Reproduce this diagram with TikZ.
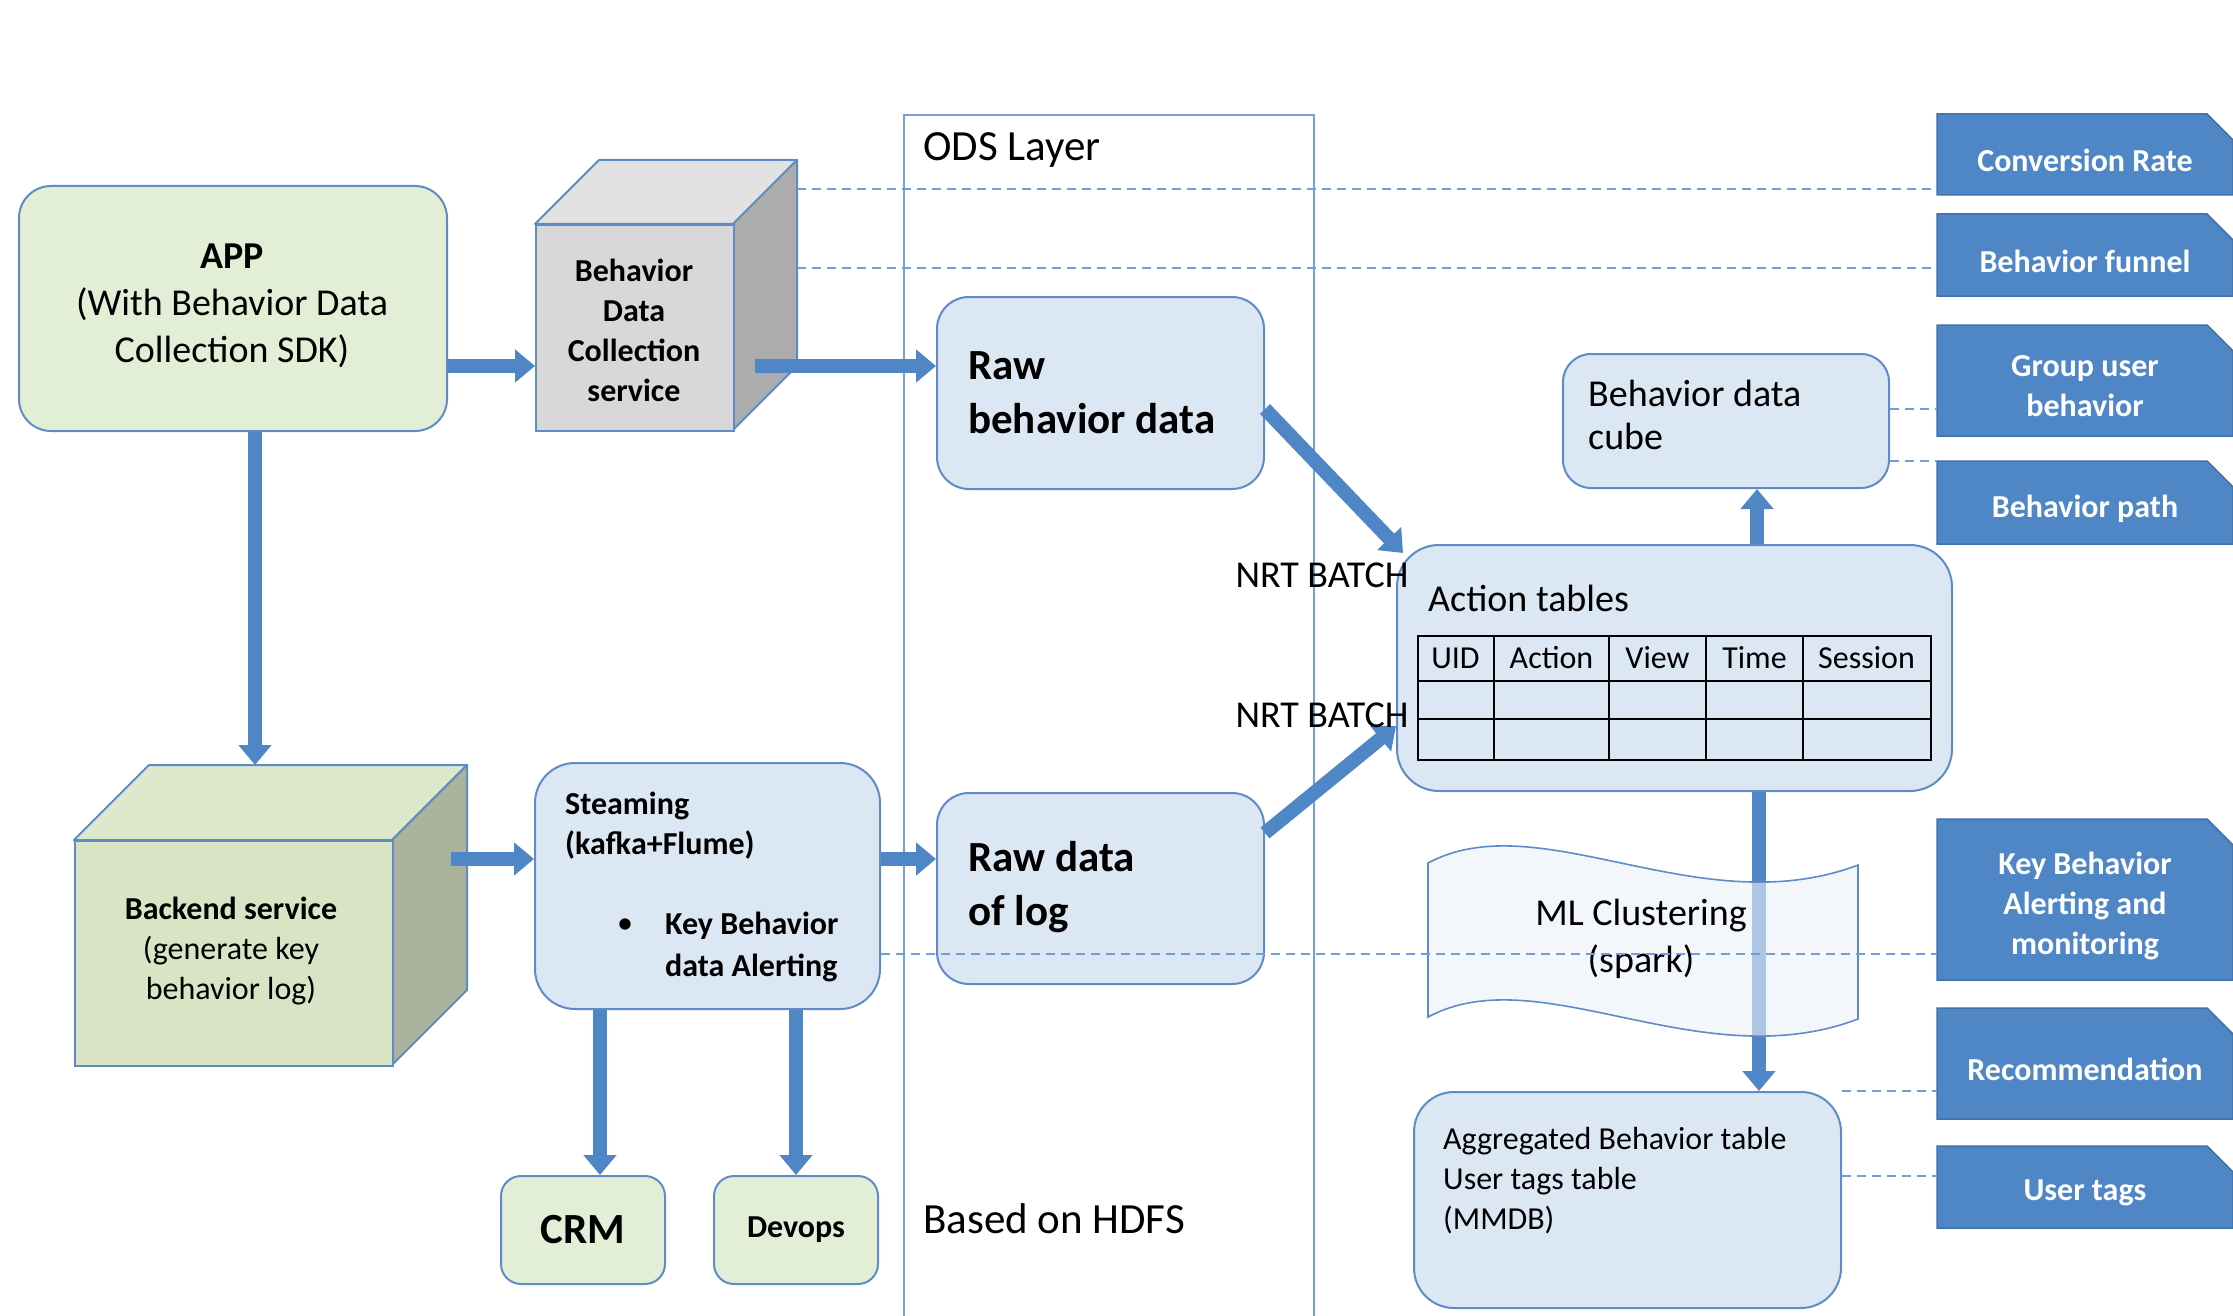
\documentclass[tikz,border=0pt]{standalone}
\usepackage{fontspec}
\setmainfont{Carlito}
\usetikzlibrary{arrows.meta,calc}
\definecolor{bord}{RGB}{95,140,198}
\definecolor{lblue}{RGB}{220,231,244}
\definecolor{lgreen}{RGB}{226,238,214}
\definecolor{bgreen}{RGB}{216,228,196}
\definecolor{sgreen}{RGB}{170,178,155}
\definecolor{tgreen}{RGB}{221,232,205}
\definecolor{gfront}{RGB}{216,216,216}
\definecolor{gtop}{RGB}{226,226,226}
\definecolor{gside}{RGB}{172,172,172}
\definecolor{dblue}{RGB}{79,134,198}
\definecolor{dbord}{RGB}{65,113,170}
\definecolor{arrowc}{RGB}{79,134,198}
\definecolor{dashc}{RGB}{110,160,215}
\definecolor{odsc}{RGB}{120,160,210}
\newcommand{\rbx}[5]{%
  \fill[dblue, draw=dbord, line width=1.5pt] (1937,#2) -- (2207,#2) -- (2233,#2+26) -- (2233,#3) -- (1937,#3) -- cycle;
  \node[rtext, minimum width=296pt, minimum height=#4pt, inner sep=0pt] (#1) at (2085,{(#2+#3)/2}) {};
  \node[rtext, inner sep=0pt] (#1t) at ([yshift=-6pt]#1.center) {#5};}
\begin{document}
\begin{tikzpicture}[x=1pt,y=-1pt,
  f32/.style={font=\fontsize{32}{40}\selectfont},
  f38/.style={font=\fontsize{38}{47}\selectfont},
  f43/.style={font=\fontsize{43}{54}\selectfont},
  box/.style={draw=bord, line width=2pt, rounded corners=32pt, inner sep=0pt, anchor=north west},
  bluebox/.style={box, fill=lblue},
  greenbox/.style={box, fill=lgreen},
  fat/.style={draw=arrowc, line width=14pt, -{Triangle[width=32pt,length=20pt]}},
  dashln/.style={draw=dashc, line width=1.6pt, dash pattern=on 9pt off 6pt},
  rtext/.style={text=white, font=\fontsize{32}{40}\selectfont\bfseries, align=center},
  lbl/.style={inner sep=0pt, align=left, anchor=west},
  cubeface/.style={draw=bord, line width=2pt, line join=round}
]
\useasboundingbox (0,0) rectangle (2233,1316);
\fill[white] (0,0) rectangle (2233,1316);

% ODS layer frame
\node[draw=odsc, line width=2pt, minimum width=410pt, minimum height=1260pt, anchor=north west, inner sep=0pt] (ods) at (903,114) {};
\node[f43, lbl] (odst) at (923,150) {ODS Layer};
\node[f43, lbl] (hdfs) at (923,1219) {Based on HDFS};

% right output boxes
\rbx{cr}{114}{195}{81}{Conversion Rate}
\rbx{bf}{214}{296}{82}{Behavior funnel}
\rbx{gu}{325}{436}{111}{Group user\\behavior}
\rbx{bp}{461}{544}{83}{Behavior path}
\rbx{kb}{819}{980}{161}{Key Behavior\\Alerting and\\monitoring}
\rbx{rc}{1008}{1119}{111}{Recommendation}
\rbx{ut}{1146}{1228}{82}{User tags}

% dashed connectors (behind)
\coordinate (cubeR1) at (797,189);
\coordinate (cubeR2) at (797,268);
\draw[dashln] (cubeR1) -- (cubeR1 -| cr.west);
\draw[dashln] (cubeR2) -- (cubeR2 -| bf.west);

% APP box
\node[greenbox, minimum width=428pt, minimum height=245pt] (app) at (18,185) {};
\node[f38, align=center] (appt) at (232,306) {\textbf{APP}\\(With Behavior Data\\Collection SDK)};

% Behavior data collection cube
\fill[gtop, cubeface] (535,224) -- (599,160) -- (797,160) -- (733,224) -- cycle;
\fill[gside, cubeface] (733,224) -- (797,160) -- (797,366) -- (733,430) -- cycle;
\node[draw=bord, line width=2pt, fill=gfront, minimum width=198pt, minimum height=206pt, anchor=north west, inner sep=0pt] (bdc) at (535,224) {};
\node[align=center, font=\fontsize{32}{40}\selectfont\bfseries] (bdct) at (634,330) {Behavior\\Data\\Collection\\service};

% Raw behavior data
\node[bluebox, minimum width=327pt, minimum height=192pt] (rawb) at (936,296) {};
\node[lbl, font=\fontsize{43}{54}\selectfont\bfseries] (rawbt) at (968,393) {Raw\\behavior data};

% Raw data of log
\node[bluebox, minimum width=327pt, minimum height=191pt] (rawl) at (936,792) {};
\node[lbl, font=\fontsize{43}{54}\selectfont\bfseries] (rawlt) at (968,887) {Raw data\\of log};

% Behavior data cube
\node[bluebox, minimum width=326pt, minimum height=134pt, rounded corners=28pt] (bcube) at (1562,353) {};
\node[lbl, font=\fontsize{38}{43}\selectfont] (bcubet) at (1588,415) {Behavior data\\cube};
\draw[dashln] (bcube.east |- 0,409) -- (gu.west |- 0,409);
\draw[dashln] (bcube.east |- 0,461) -- (bp.west |- 0,461);

% Action tables
\node[bluebox, minimum width=555pt, minimum height=246pt, rounded corners=42pt] (act) at (1396,544) {};
\node[f38, lbl] (actt) at (1428,598) {Action tables};
\node[draw=black, line width=2pt, minimum width=513pt, minimum height=124pt, anchor=north west, inner sep=0pt] (tbl) at (1417,635) {};
\draw[black, line width=2pt] (1417,681) -- (1930,681) (1417,719) -- (1930,719);
\draw[black, line width=2pt] (1494,635) -- (1494,759) (1609,635) -- (1609,759) (1706,635) -- (1706,759) (1803,635) -- (1803,759);
\node[f32] (h1) at (1455.5,658) {UID};
\node[f32] (h2) at (1551.5,658) {Action};
\node[f32] (h3) at (1657.5,658) {View};
\node[f32] (h4) at (1754.5,658) {Time};
\node[f32] (h5) at (1866.5,658) {Session};

% Aggregated
\node[bluebox, minimum width=427pt, minimum height=216pt, rounded corners=40pt] (agg) at (1413,1091) {};
\node[f32, lbl] (aggt) at (1443,1181) {Aggregated Behavior table\\User tags table\\(MMDB)};
\draw[dashln] (agg.north east) -- (agg.north east -| rc.west);
\draw[dashln] (agg.east |- 0,1176) -- (ut.west |- 0,1176);

% arrows in the right part
\draw[fat] (act.north -| 1757,0) -- (bcube.south -| 1757,0);
\draw[fat] (act.south -| 1759,0) -- (agg.north -| 1759,0);

% ML clustering tape
\path[draw=bord, line width=1.6pt, fill=lblue!55!white, fill opacity=0.6] (1428,863) .. controls (1540,803) and (1700,925) .. (1858,865) -- (1858,1019) .. controls (1700,1079) and (1540,957) .. (1428,1017) -- cycle;
\node[f38, align=center] (mlt) at (1641,939) {ML Clustering\\(spark)};

% Backend service cube
\fill[tgreen, cubeface] (74,840) -- (149,765) -- (467,765) -- (392,840) -- cycle;
\fill[sgreen, cubeface] (392,840) -- (467,765) -- (467,990) -- (392,1065) -- cycle;
\node[draw=bord, line width=2pt, fill=bgreen, minimum width=318pt, minimum height=225pt, anchor=north west, inner sep=0pt] (bk) at (74,840) {};
\node[f32, align=center] (bkt) at (231,951) {\textbf{Backend service}\\(generate key\\behavior log)};

% Streaming
\node[bluebox, minimum width=345pt, minimum height=246pt, rounded corners=40pt] (st) at (534,762) {};
\node[lbl, font=\fontsize{32}{40}\selectfont\bfseries] (stt) at (565,826) {Steaming\\(kafka+Flume)};
\node[f32] (bul) at (625,926) {\textbullet};
\node[lbl, font=\fontsize{32}{42}\selectfont\bfseries] (stt2) at (665,947) {Key Behavior\\data Alerting};

% CRM / Devops
\node[greenbox, minimum width=164pt, minimum height=108pt, rounded corners=20pt] (crm) at (500,1175) {};
\node[font=\fontsize{43}{50}\selectfont\bfseries] (crmt) at (crm.center) {CRM};
\node[greenbox, minimum width=164pt, minimum height=108pt, rounded corners=20pt] (dev) at (713,1175) {};
\node[font=\fontsize{32}{40}\selectfont\bfseries] (devt) at (dev.center) {Devops};

% fat arrows left part
\draw[fat] (app.east |- 0,366) -- (bdc.west |- 0,366);
\draw[fat] (755,366) -- (rawb.west |- 0,366);
\coordinate (bktop) at (255,765);
\draw[fat] (app.south -| bktop) -- (bktop);
\draw[fat] (451,859) -- (st.west |- 0,859);
\draw[fat] (st.east |- 0,859) -- (rawl.west |- 0,859);
\draw[fat] (st.south -| 600,0) -- (crm.north -| 600,0);
\draw[fat] (st.south -| 796,0) -- (dev.north -| 796,0);

% NRT batch arrows
\draw[fat] (rawb.east |- 0,409) -- (1403,553);
\draw[fat] (rawl.east |- 0,833) -- (act.west |- 0,726);
\node[f38] (nrt1) at (1322,575) {NRT BATCH};
\node[f38] (nrt2) at (1322,715) {NRT BATCH};

% dashed line from streaming to key behavior (drawn on top)
\draw[dashln] (st.east |- 0,954) -- (kb.west |- 0,954);
\end{tikzpicture}
\end{document}
